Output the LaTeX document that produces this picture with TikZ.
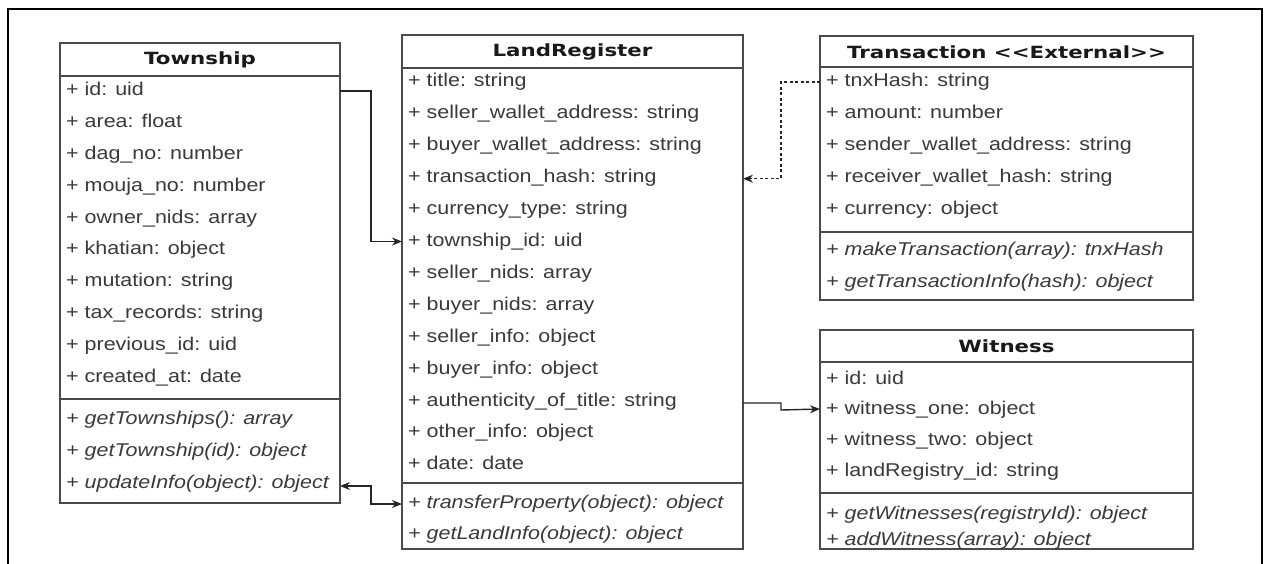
\documentclass[tikz,border=0pt]{standalone}
\usepackage{fontspec}
\usetikzlibrary{arrows.meta,calc}
\newfontfamily\rowfont[FakeStretch=1.16]{Liberation Sans}
\newfontfamily\headfont[FakeStretch=1.27]{DejaVu Sans}
\definecolor{linec}{HTML}{4A4A4A}
\definecolor{txt}{HTML}{3A3A3A}
\begin{document}
\begin{tikzpicture}[x=1pt,y=-1pt,
  cls/.style={draw=linec, line width=1.5pt, fill=white, rectangle, inner sep=0pt, outer sep=0pt, anchor=north west},
  attr/.style={anchor=west, inner sep=0pt, text=txt, text height=16pt, text depth=2pt,
    font=\rowfont\fontsize{18.5}{20}\selectfont},
  meth/.style={attr, font=\rowfont\itshape\fontsize{18.5}{20}\selectfont},
  head/.style={inner sep=0pt, text=black!90, font=\headfont\bfseries\fontsize{16.8}{18}\selectfont},
  sep/.style={draw=linec, line width=1.5pt},
  conn/.style={draw=black!85, line width=1.4pt},
  tip/.style={-{Stealth[length=10pt,width=8pt]}},
]
\useasboundingbox (0,0) rectangle (1270,564);
% outer frame
\draw[line width=2.6pt, black] (8,564) -- (8,9) -- (1262,9) -- (1262,564);

% ---------- Township ----------
\node[cls, minimum width=280pt, minimum height=460pt] (town) at (60,43) {};
\node[head] (townh) at (200,60) {Township};
\draw[sep] ([yshift=-33pt]town.north west) -- ([yshift=-33pt]town.north east);
\draw[sep] ([yshift=-356pt]town.north west) -- ([yshift=-356pt]town.north east);
\foreach \txt [count=\i] in {+ id: uid, + area: float, + dag\_no: number, + mouja\_no: number,
  + owner\_nids: array, + khatian: object, + mutation: string, + tax\_records: string,
  + previous\_id: uid, + created\_at: date}
  \node[attr] (t\i) at (66,{89+31.8*(\i-1)}) {\txt};
\foreach \txt [count=\i] in {+ getTownships(): array, + getTownship(id): object, + updateInfo(object): object}
  \node[meth] (tm\i) at (66,{417+32*(\i-1)}) {\txt};

% ---------- LandRegister ----------
\node[cls, minimum width=341pt, minimum height=514pt] (land) at (402,35) {};
\node[head] (landh) at (572.5,52) {LandRegister};
\draw[sep] ([yshift=-33pt]land.north west) -- ([yshift=-33pt]land.north east);
\draw[sep] ([yshift=-448pt]land.north west) -- ([yshift=-448pt]land.north east);
\foreach \txt [count=\i] in {+ title: string, + seller\_wallet\_address: string, + buyer\_wallet\_address: string,
  + transaction\_hash: string, + currency\_type: string, + township\_id: uid, + seller\_nids: array,
  + buyer\_nids: array, + seller\_info: object, + buyer\_info: object, + authenticity\_of\_title: string,
  + other\_info: object, + date: date}
  \node[attr] (l\i) at (408,{80+31.9*(\i-1)}) {\txt};
\foreach \txt [count=\i] in {+ transferProperty(object): object, + getLandInfo(object): object}
  \node[meth] (lm\i) at (408,{501+31*(\i-1)}) {\txt};

% ---------- Transaction ----------
\node[cls, minimum width=373pt, minimum height=264pt] (trans) at (820,36) {};
\node[head] (transh) at (1006.5,52) {Transaction <<External>>};
\draw[sep] ([yshift=-31pt]trans.north west) -- ([yshift=-31pt]trans.north east);
\draw[sep] ([yshift=-196pt]trans.north west) -- ([yshift=-196pt]trans.north east);
\foreach \txt [count=\i] in {+ tnxHash: string, + amount: number, + sender\_wallet\_address: string,
  + receiver\_wallet\_hash: string, + currency: object}
  \node[attr] (x\i) at (826,{80+32*(\i-1)}) {\txt};
\foreach \txt [count=\i] in {+ makeTransaction(array): tnxHash, + getTransactionInfo(hash): object}
  \node[meth] (xm\i) at (826,{249+32*(\i-1)}) {\txt};

% ---------- Witness ----------
\node[cls, minimum width=373pt, minimum height=219pt] (wit) at (820,330) {};
\node[head] (with) at (1006.5,346) {Witness};
\draw[sep] ([yshift=-32pt]wit.north west) -- ([yshift=-32pt]wit.north east);
\draw[sep] ([yshift=-163pt]wit.north west) -- ([yshift=-163pt]wit.north east);
\foreach \txt [count=\i] in {+ id: uid, + witness\_one: object, + witness\_two: object, + landRegistry\_id: string}
  \node[attr] (w\i) at (826,{377+30.7*(\i-1)}) {\txt};
\foreach \txt [count=\i] in {+ getWitnesses(registryId): object, + addWitness(array): object}
  \node[meth] (wm\i) at (826,{512+26*(\i-1)}) {\txt};

% ---------- connectors ----------
\draw[conn, tip] ($(town.east |- t1)+(0,2)$) -- ++(31,0) |- ($(land.west |- l6)+(0,2)$);
\draw[conn, {Stealth[length=10pt,width=8pt]}-{Stealth[length=10pt,width=8pt]}]
  ($(town.east |- tm3)+(0,5)$) -- ++(31,0) |- ($(land.west |- lm1)+(0,3)$);
\draw[conn, tip, dash pattern=on 3pt off 2.5pt] ($(trans.west |- x1)+(0,2)$) -- ++(-39,0) |- ($(land.east |- l4)+(0,3)$);
\draw[conn, tip] ($(land.east |- l11)+(0,4)$) -- ++(38,0) -- ++(0,7) -- (wit.west |- {0,409});
\end{tikzpicture}
\end{document}
